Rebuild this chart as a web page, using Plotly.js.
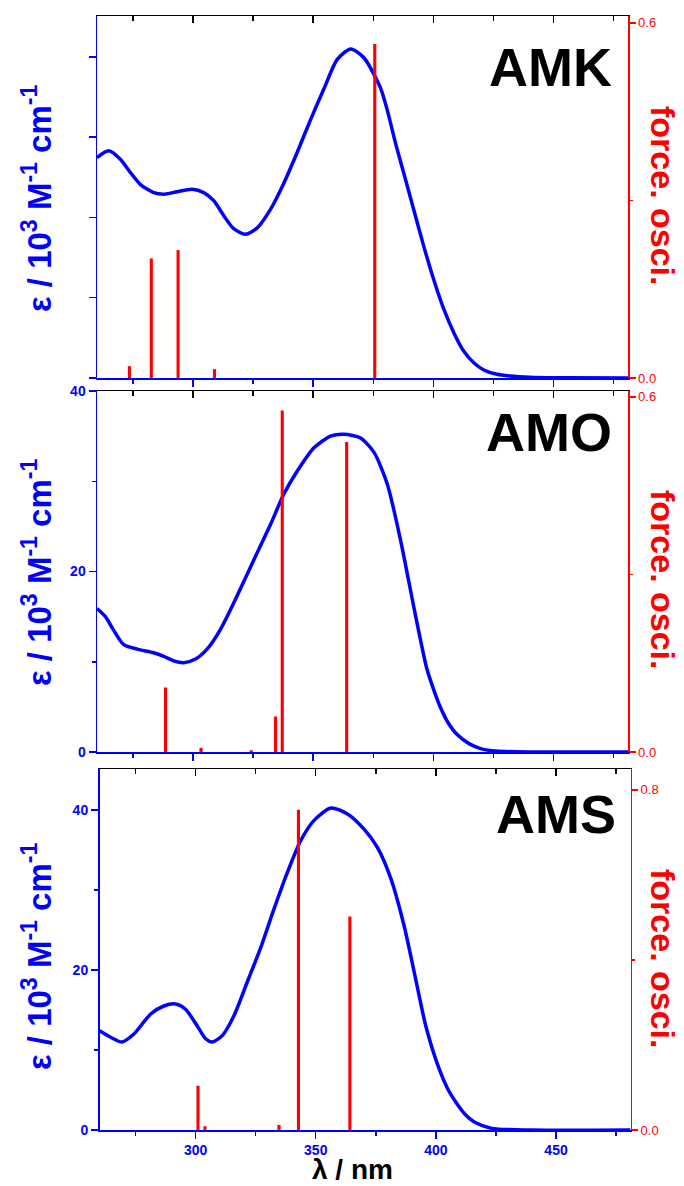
<!DOCTYPE html>
<html>
<head>
<meta charset="utf-8">
<script src="https://cdn.plot.ly/plotly-3.0.1.min.js"></script>
<style>html,body{margin:0;padding:0;background:#fff;}#chart{width:684px;height:1186px;}</style>
</head>
<body>
<div id="chart"></div>
<script>
// ---- Data ----
const amkWl  = [260, 264.9, 269.7, 273.9, 278.1, 283.6, 287.8, 293.3, 299.6, 304.4, 308.6, 312.8, 316.9, 321.8, 326.7, 332.2, 337.8, 343.3, 348.9, 354.4, 360, 365.6, 371.1, 377.9, 380.7, 384.2, 387.6, 391.8, 396, 400.1, 404.3, 408.5, 412.6, 416.8, 421, 426.5, 432, 440, 455, 481];
const amkEps = [27.45, 28.3, 27.25, 25.6, 24.1, 23.1, 22.9, 23.2, 23.5, 23.1, 22.1, 20.2, 18.6, 17.9, 18.7, 21.0, 24.3, 28.1, 32.2, 36.0, 39.7, 41.0, 39.9, 36.2, 33.5, 29.3, 25.6, 21.0, 16.4, 12.3, 8.6, 5.65, 3.36, 1.9, 1.0, 0.46, 0.25, 0.1, 0.02, 0];
const amkStickWl = [273.5, 282.6, 293.75, 308.9, 375.6];
const amkStickF  = [0.020, 0.202, 0.216, 0.015, 0.564];

const amoWl  = [260, 263.5, 266.9, 271.1, 276.7, 283.6, 287.8, 291.9, 296.1, 301, 305.8, 311.4, 318.3, 325.3, 332.2, 337.8, 343.3, 350.3, 357.2, 362.8, 369.7, 375.3, 380.8, 386.4, 391.9, 397.2, 400, 403, 406, 410, 415, 420, 426, 440, 481];
const amoEps = [15.9, 15.0, 13.5, 11.9, 11.4, 11.0, 10.6, 10.1, 9.9, 10.3, 11.4, 13.6, 17.3, 21.3, 25.2, 28.6, 31.1, 33.7, 35.0, 35.2, 34.8, 33.2, 29.7, 23.4, 16.0, 9.3, 7.0, 4.9, 3.3, 1.9, 0.9, 0.35, 0.1, 0, 0];
const amoStickWl = [288.5, 303.3, 324.2, 334.3, 337.1, 363.9];
const amoStickF  = [0.109, 0.007, 0.003, 0.060, 0.577, 0.524];

const amsWl  = [260, 264.6, 269.4, 274.3, 281.3, 286.8, 291.7, 295.8, 300.7, 304.2, 306.9, 311.1, 316, 321.5, 327.1, 332.6, 338.2, 343.8, 349.3, 356.3, 363.2, 370.1, 375.7, 381.3, 386.8, 391, 395.8, 401.4, 405, 408.7, 412, 416, 423.3, 440, 481];
const amsEps = [12.4, 11.6, 11.0, 12.0, 14.5, 15.5, 15.75, 15.1, 13.0, 11.4, 11.0, 11.8, 14.3, 18.5, 22.8, 27.6, 32.2, 36.2, 38.7, 40.25, 39.5, 37.6, 35.3, 31.4, 25.5, 19.7, 13.0, 7.6, 5.1, 3.3, 2.0, 1.0, 0.2, 0, 0];
const amsStickWl = [301, 303.9, 334.7, 342.8, 364.2];
const amsStickF  = [0.104, 0.009, 0.012, 0.753, 0.502];

const panelNames = ['AMK', 'AMO', 'AMS'];
const xTitle = 'λ / nm';
const yLeftTitle = 'ε / 10<sup>3</sup> M<sup>-1</sup> cm<sup>-1</sup>';
const yRightTitle = 'force. osci.';

// ---- Styling ----
const BLUE = '#0000ff', RED = '#ff0000';
const FONT = 'Arial, "Liberation Sans", sans-serif';
const XR = [260, 481];
const xdomTop = [97/684, 628/684];
const xdomBot = [99.5/684, 630.5/684];
const ydom = {
  top: [1-378/1186, 1-16/1186],
  mid: [1-752/1186, 1-391/1186],
  bot: [1-1130/1186, 1-769/1186]
};

function curve(x, y, xa, ya) {
  return {type:'scatter', mode:'lines', x:x, y:y, xaxis:xa, yaxis:ya,
    line:{color:BLUE, width:3.5, shape:'spline', smoothing:0.7}, hoverinfo:'skip', showlegend:false};
}
function sticks(x, y, xa, ya) {
  return {type:'bar', x:x, y:y, xaxis:xa, yaxis:ya, width:1.3, base:0,
    marker:{color:RED, line:{width:0}}, hoverinfo:'skip', showlegend:false};
}
function dummy(xa, ya) {
  return {type:'scatter', mode:'lines', x:[XR[0]], y:[null], xaxis:xa, yaxis:ya, hoverinfo:'skip', showlegend:false};
}

const data = [
  curve(amsWl, amsEps, 'x', 'y'),
  sticks(amsStickWl, amsStickF, 'x', 'y2'),
  curve(amoWl, amoEps, 'x2', 'y3'),
  sticks(amoStickWl, amoStickF, 'x2', 'y4'),
  curve(amkWl, amkEps, 'x3', 'y5'),
  sticks(amkStickWl, amkStickF, 'x3', 'y6'),
  dummy('x4', 'y'), dummy('x5', 'y3'), dummy('x6', 'y5')
];

function xBottom(domain, anchor, labels) {
  return {domain:domain, anchor:anchor, range:XR, showline:true, linecolor:BLUE, linewidth:1.5,
    ticks:'outside', ticklen:7, tickwidth:1.5, tickcolor:BLUE, dtick:50, tick0:300,
    minor:{dtick:25, tick0:275, ticks:'outside', ticklen:4, tickwidth:1.5, tickcolor:BLUE},
    showticklabels:labels, tickfont:{family:FONT, size:14, color:BLUE, weight:'bold'},
    showgrid:false, zeroline:false, fixedrange:true};
}
function xTop(over, anchor) {
  return {overlaying:over, anchor:anchor, side:'top', range:XR, showline:true, linecolor:'#000', linewidth:1.5,
    ticks:'inside', ticklen:7, tickwidth:1.5, tickcolor:'#000', dtick:50, tick0:300,
    minor:{dtick:25, tick0:275, ticks:'inside', ticklen:5, tickwidth:1.5, tickcolor:'#000'},
    showticklabels:false, showgrid:false, zeroline:false, fixedrange:true};
}
function yLeft(domain, anchor, range, dtick, minor, labels) {
  const a = {domain:domain, anchor:anchor, range:range, showline:true, linecolor:BLUE, linewidth:1.5,
    ticks:'outside', ticklen:7, tickwidth:1.5, tickcolor:BLUE, dtick:dtick, tick0:0,
    showticklabels:labels, tickfont:{family:FONT, size:14, color:BLUE, weight:'bold'},
    showgrid:false, zeroline:false, fixedrange:true};
  if (minor) a.minor = {dtick:minor, ticks:'outside', ticklen:4, tickwidth:1.5, tickcolor:BLUE};
  return a;
}
function yRight(over, anchor, range, dtick) {
  return {overlaying:over, anchor:anchor, side:'right', range:range, showline:true, linecolor:RED, linewidth:1.5,
    ticks:'outside', ticklen:6, tickwidth:1.5, tickcolor:RED, dtick:dtick, tick0:0, tickformat:'.1f',
    minor:{dtick:dtick/2, ticks:'outside', ticklen:3, tickwidth:1.5, tickcolor:RED},
    tickfont:{family:FONT, size:13, color:RED},
    showgrid:false, zeroline:false, fixedrange:true};
}

const ann = [];
function label(text, x, y) {
  ann.push({text:'<b>'+text+'</b>', x:x, y:y, xref:'paper', yref:'paper', xanchor:'right', yanchor:'middle',
    showarrow:false, font:{family:FONT, size:54, color:'#000'}});
}
label(panelNames[0], 614/684, 1-67/1186);
label(panelNames[1], 614/684, 1-432/1186);
label(panelNames[2], 618/684, 1-814/1186);
[[198, 196], [572, 580], [956, 959]].forEach(function(p){
  ann.push({text:'<b>'+yLeftTitle+'</b>', x:37/684, y:1-p[0]/1186, xref:'paper', yref:'paper',
    xanchor:'center', yanchor:'middle', textangle:-90, showarrow:false, font:{family:FONT, size:33, color:BLUE}});
  ann.push({text:'<b>'+yRightTitle+'</b>', x:663/684, y:1-p[1]/1186, xref:'paper', yref:'paper',
    xanchor:'center', yanchor:'middle', textangle:90, showarrow:false, font:{family:FONT, size:34, color:RED}});
});
ann.push({text:'<b>'+xTitle+'</b>', x:352/684, y:0, xref:'paper', yref:'paper',
  xanchor:'center', yanchor:'bottom', borderpad:0, showarrow:false, font:{family:FONT, size:28, color:'#000'}});

const layout = {
  width:684, height:1186, margin:{l:0, r:0, t:0, b:0}, paper_bgcolor:'#fff', plot_bgcolor:'#fff',
  showlegend:false, barmode:'overlay', font:{family:FONT},
  xaxis: xBottom(xdomBot, 'y', true),
  xaxis2: xBottom(xdomTop, 'y3', false),
  xaxis3: xBottom(xdomTop, 'y5', false),
  xaxis4: xTop('x', 'y'),
  xaxis5: xTop('x2', 'y3'),
  xaxis6: xTop('x3', 'y5'),
  yaxis: yLeft(ydom.bot, 'x', [0, 45.125], 20, 10, true),
  yaxis2: yRight('y', 'x', [0, 0.849], 0.8),
  yaxis3: yLeft(ydom.mid, 'x2', [0, 40], 20, 10, true),
  yaxis4: yRight('y3', 'x2', [0, 0.610], 0.6),
  yaxis5: yLeft(ydom.top, 'x3', [0, 45.1], 10, null, false),
  yaxis6: yRight('y5', 'x3', [0, 0.6115], 0.6),
  annotations: ann
};

Plotly.newPlot('chart', data, layout, {displayModeBar:false, staticPlot:true});
</script>
</body>
</html>
